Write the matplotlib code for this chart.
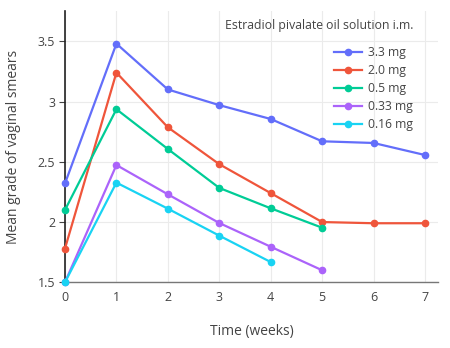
import matplotlib.pyplot as plt

plt.rcParams['font.family'] = ['Open Sans', 'DejaVu Sans']

weeks = [0, 1, 2, 3, 4, 5, 6, 7]
dose_labels = ["3.3 mg", "2.0 mg", "0.5 mg", "0.33 mg", "0.16 mg"]
grade_33 = [2.32, 3.48, 3.10, 2.97, 2.855, 2.67, 2.656, 2.556]
grade_20 = [1.78, 3.24, 2.786, 2.48, 2.24, 2.0, 1.99, 1.99]
grade_05 = [2.10, 2.936, 2.606, 2.283, 2.114, 1.953]
grade_033 = [1.50, 2.473, 2.23, 1.992, 1.795, 1.60]
grade_016 = [1.50, 2.327, 2.111, 1.887, 1.668]
colors = ["#636efa", "#ef553b", "#00cc96", "#ab63fa", "#19d3f3"]

series = [grade_33, grade_20, grade_05, grade_033, grade_016]

fig = plt.figure(figsize=(4.5, 3.48), dpi=100)
ax = fig.add_axes([0.1444, 0.1888, 0.8286, 0.7792])

for vals, lab, c in zip(series, dose_labels, colors):
    ax.plot(weeks[:len(vals)], vals, color=c, lw=1.6, marker='o', ms=4.5,
            label=lab, clip_on=False, zorder=3)

ax.set_xlim(0, 7.25)
ax.set_ylim(1.5, 3.75)
ax.set_xticks(weeks)
ax.set_yticks([1.5, 2, 2.5, 3, 3.5])
ax.set_yticklabels(["1.5", "2", "2.5", "3", "3.5"])
ax.grid(True, color='#ebebeb', lw=0.8)
ax.set_axisbelow(True)

for s in ['top', 'right']:
    ax.spines[s].set_visible(False)
ax.spines['left'].set_color('#222222')
ax.spines['left'].set_linewidth(1.2)
ax.spines['bottom'].set_color('#777777')
ax.spines['bottom'].set_linewidth(1.0)
ax.tick_params(axis='x', length=0, pad=6, labelsize=9, labelcolor='#444444')
ax.tick_params(axis='y', length=4, color='#444444', pad=3, labelsize=9,
               labelcolor='#444444')

ax.set_xlabel("Time (weeks)", fontsize=10, color='#444444', labelpad=15)
ax.set_ylabel("Mean grade of vaginal smears", fontsize=10, color='#444444', labelpad=12)

leg = ax.legend(title="Estradiol pivalate oil solution i.m.", loc='upper right',
                bbox_to_anchor=(419 / 450, 1 - 13 / 348),
                bbox_transform=fig.transFigure, frameon=False, fontsize=8.7,
                title_fontsize=8.8, handlelength=2.3, labelspacing=0.42,
                handletextpad=0.5, borderpad=0.0)
leg._legend_box.align = 'right'
leg._legend_box.sep = 10
for t in leg.get_texts():
    t.set_color('#444444')
leg.get_title().set_color('#444444')

fig.savefig("out.png", dpi=100)
